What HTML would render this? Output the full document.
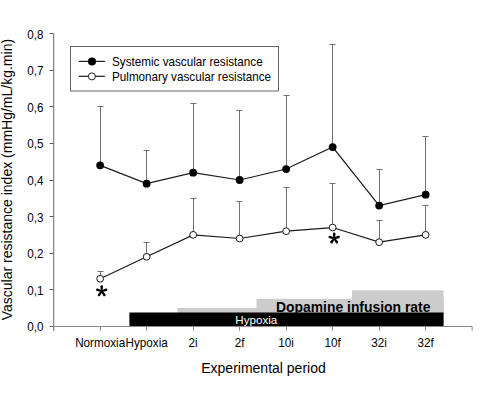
<!DOCTYPE html>
<html><head><meta charset="utf-8"><style>
html,body{margin:0;padding:0;background:#fff;}
body{width:500px;height:395px;overflow:hidden;}
svg{display:block;}
text{font-family:"Liberation Sans",sans-serif;fill:#000;}
.t{font-size:12.75px;}
.tt{font-size:14px;}
.b{font-size:13.9px;font-weight:bold;}
.ast{font-size:30.5px;font-weight:bold;}
</style></head><body>
<svg width="500" height="395" viewBox="0 0 500 395">
<rect width="500" height="395" fill="#fff"/>
<rect x="177.5" y="308" width="266.1" height="5" fill="#cccccc"/>
<rect x="256.5" y="298.8" width="187.1" height="14" fill="#cccccc"/>
<rect x="352" y="290.3" width="91.6" height="22.5" fill="#cccccc"/>
<rect x="129.4" y="312.5" width="314.2" height="14" fill="#000"/>
<text x="256.3" y="323.6" text-anchor="middle" style="font-size:11.6px;fill:#fff">Hypoxia</text>
<text x="353.2" y="311.7" text-anchor="middle" class="b">Dopamine infusion rate</text>
<line x1="53.65" y1="33.20" x2="53.65" y2="330.8" stroke="#8a8a8a" stroke-width="1.3"/>
<line x1="49.6" y1="326.50" x2="53.6" y2="326.50" stroke="#606060" stroke-width="1"/>
<text transform="translate(43.60,331.30) scale(0.918,1)" text-anchor="end" class="t">0,0</text>
<line x1="49.6" y1="289.50" x2="53.6" y2="289.50" stroke="#606060" stroke-width="1"/>
<text transform="translate(43.60,294.73) scale(0.918,1)" text-anchor="end" class="t">0,1</text>
<line x1="49.6" y1="253.50" x2="53.6" y2="253.50" stroke="#606060" stroke-width="1"/>
<text transform="translate(43.60,258.15) scale(0.918,1)" text-anchor="end" class="t">0,2</text>
<line x1="49.6" y1="216.50" x2="53.6" y2="216.50" stroke="#606060" stroke-width="1"/>
<text transform="translate(43.60,221.58) scale(0.918,1)" text-anchor="end" class="t">0,3</text>
<line x1="49.6" y1="180.50" x2="53.6" y2="180.50" stroke="#606060" stroke-width="1"/>
<text transform="translate(43.60,185.00) scale(0.918,1)" text-anchor="end" class="t">0,4</text>
<line x1="49.6" y1="143.50" x2="53.6" y2="143.50" stroke="#606060" stroke-width="1"/>
<text transform="translate(43.60,148.43) scale(0.918,1)" text-anchor="end" class="t">0,5</text>
<line x1="49.6" y1="106.50" x2="53.6" y2="106.50" stroke="#606060" stroke-width="1"/>
<text transform="translate(43.60,111.85) scale(0.918,1)" text-anchor="end" class="t">0,6</text>
<line x1="49.6" y1="70.50" x2="53.6" y2="70.50" stroke="#606060" stroke-width="1"/>
<text transform="translate(43.60,75.28) scale(0.918,1)" text-anchor="end" class="t">0,7</text>
<line x1="49.6" y1="33.50" x2="53.6" y2="33.50" stroke="#606060" stroke-width="1"/>
<text transform="translate(43.60,38.70) scale(0.918,1)" text-anchor="end" class="t">0,8</text>
<line x1="53" y1="326.5" x2="472.15" y2="326.5" stroke="#8a8a8a" stroke-width="1"/>
<line x1="53.65" y1="326.5" x2="53.65" y2="330.8" stroke="#8a8a8a" stroke-width="1"/>
<line x1="100.50" y1="326.5" x2="100.50" y2="330.8" stroke="#8a8a8a" stroke-width="1"/>
<line x1="146.50" y1="326.5" x2="146.50" y2="330.8" stroke="#8a8a8a" stroke-width="1"/>
<line x1="193.50" y1="326.5" x2="193.50" y2="330.8" stroke="#8a8a8a" stroke-width="1"/>
<line x1="239.50" y1="326.5" x2="239.50" y2="330.8" stroke="#8a8a8a" stroke-width="1"/>
<line x1="286.50" y1="326.5" x2="286.50" y2="330.8" stroke="#8a8a8a" stroke-width="1"/>
<line x1="332.50" y1="326.5" x2="332.50" y2="330.8" stroke="#8a8a8a" stroke-width="1"/>
<line x1="379.50" y1="326.5" x2="379.50" y2="330.8" stroke="#8a8a8a" stroke-width="1"/>
<line x1="425.50" y1="326.5" x2="425.50" y2="330.8" stroke="#8a8a8a" stroke-width="1"/>
<line x1="472.15" y1="326.5" x2="472.15" y2="330.8" stroke="#8a8a8a" stroke-width="1"/>
<text transform="translate(100.15,347.40) scale(0.918,1)" text-anchor="middle" class="t">Normoxia</text>
<text transform="translate(146.65,347.40) scale(0.918,1)" text-anchor="middle" class="t">Hypoxia</text>
<text transform="translate(193.15,347.40) scale(0.918,1)" text-anchor="middle" class="t">2i</text>
<text transform="translate(239.65,347.40) scale(0.918,1)" text-anchor="middle" class="t">2f</text>
<text transform="translate(286.15,347.40) scale(0.918,1)" text-anchor="middle" class="t">10i</text>
<text transform="translate(332.65,347.40) scale(0.918,1)" text-anchor="middle" class="t">10f</text>
<text transform="translate(379.15,347.40) scale(0.918,1)" text-anchor="middle" class="t">32i</text>
<text transform="translate(425.65,347.40) scale(0.918,1)" text-anchor="middle" class="t">32f</text>
<line x1="100.50" y1="165.37" x2="100.50" y2="106.50" stroke="#707070" stroke-width="1"/>
<line x1="97.50" y1="106.50" x2="103.50" y2="106.50" stroke="#707070" stroke-width="1"/>
<line x1="146.50" y1="183.66" x2="146.50" y2="150.50" stroke="#707070" stroke-width="1"/>
<line x1="143.50" y1="150.50" x2="149.50" y2="150.50" stroke="#707070" stroke-width="1"/>
<line x1="193.50" y1="172.69" x2="193.50" y2="103.50" stroke="#707070" stroke-width="1"/>
<line x1="190.50" y1="103.50" x2="196.50" y2="103.50" stroke="#707070" stroke-width="1"/>
<line x1="239.50" y1="180.00" x2="239.50" y2="110.50" stroke="#707070" stroke-width="1"/>
<line x1="236.50" y1="110.50" x2="242.50" y2="110.50" stroke="#707070" stroke-width="1"/>
<line x1="286.50" y1="169.03" x2="286.50" y2="95.50" stroke="#707070" stroke-width="1"/>
<line x1="283.50" y1="95.50" x2="289.50" y2="95.50" stroke="#707070" stroke-width="1"/>
<line x1="332.50" y1="147.08" x2="332.50" y2="44.50" stroke="#707070" stroke-width="1"/>
<line x1="329.50" y1="44.50" x2="335.50" y2="44.50" stroke="#707070" stroke-width="1"/>
<line x1="379.50" y1="205.60" x2="379.50" y2="169.50" stroke="#707070" stroke-width="1"/>
<line x1="376.50" y1="169.50" x2="382.50" y2="169.50" stroke="#707070" stroke-width="1"/>
<line x1="425.50" y1="194.63" x2="425.50" y2="136.50" stroke="#707070" stroke-width="1"/>
<line x1="422.50" y1="136.50" x2="428.50" y2="136.50" stroke="#707070" stroke-width="1"/>
<line x1="100.50" y1="278.75" x2="100.50" y2="271.50" stroke="#707070" stroke-width="1"/>
<line x1="97.50" y1="271.50" x2="103.50" y2="271.50" stroke="#707070" stroke-width="1"/>
<line x1="146.50" y1="256.81" x2="146.50" y2="242.50" stroke="#707070" stroke-width="1"/>
<line x1="143.50" y1="242.50" x2="149.50" y2="242.50" stroke="#707070" stroke-width="1"/>
<line x1="193.50" y1="234.86" x2="193.50" y2="198.50" stroke="#707070" stroke-width="1"/>
<line x1="190.50" y1="198.50" x2="196.50" y2="198.50" stroke="#707070" stroke-width="1"/>
<line x1="239.50" y1="238.52" x2="239.50" y2="201.50" stroke="#707070" stroke-width="1"/>
<line x1="236.50" y1="201.50" x2="242.50" y2="201.50" stroke="#707070" stroke-width="1"/>
<line x1="286.50" y1="231.21" x2="286.50" y2="187.50" stroke="#707070" stroke-width="1"/>
<line x1="283.50" y1="187.50" x2="289.50" y2="187.50" stroke="#707070" stroke-width="1"/>
<line x1="332.50" y1="227.55" x2="332.50" y2="183.50" stroke="#707070" stroke-width="1"/>
<line x1="329.50" y1="183.50" x2="335.50" y2="183.50" stroke="#707070" stroke-width="1"/>
<line x1="379.50" y1="242.18" x2="379.50" y2="220.50" stroke="#707070" stroke-width="1"/>
<line x1="376.50" y1="220.50" x2="382.50" y2="220.50" stroke="#707070" stroke-width="1"/>
<line x1="425.50" y1="234.86" x2="425.50" y2="205.50" stroke="#707070" stroke-width="1"/>
<line x1="422.50" y1="205.50" x2="428.50" y2="205.50" stroke="#707070" stroke-width="1"/>
<polyline fill="none" stroke="#1a1a1a" stroke-width="1.2" points="100.15,165.37 146.65,183.66 193.15,172.69 239.65,180.00 286.15,169.03 332.65,147.08 379.15,205.60 425.65,194.63"/>
<polyline fill="none" stroke="#1a1a1a" stroke-width="1.2" points="100.15,278.75 146.65,256.81 193.15,234.86 239.65,238.52 286.15,231.21 332.65,227.55 379.15,242.18 425.65,234.86"/>
<circle cx="100.15" cy="165.37" r="3.9" fill="#000"/>
<circle cx="146.65" cy="183.66" r="3.9" fill="#000"/>
<circle cx="193.15" cy="172.69" r="3.9" fill="#000"/>
<circle cx="239.65" cy="180.00" r="3.9" fill="#000"/>
<circle cx="286.15" cy="169.03" r="3.9" fill="#000"/>
<circle cx="332.65" cy="147.08" r="3.9" fill="#000"/>
<circle cx="379.15" cy="205.60" r="3.9" fill="#000"/>
<circle cx="425.65" cy="194.63" r="3.9" fill="#000"/>
<circle cx="100.15" cy="278.75" r="3.4" fill="#fff" stroke="#000" stroke-width="0.9"/>
<circle cx="146.65" cy="256.81" r="3.4" fill="#fff" stroke="#000" stroke-width="0.9"/>
<circle cx="193.15" cy="234.86" r="3.4" fill="#fff" stroke="#000" stroke-width="0.9"/>
<circle cx="239.65" cy="238.52" r="3.4" fill="#fff" stroke="#000" stroke-width="0.9"/>
<circle cx="286.15" cy="231.21" r="3.4" fill="#fff" stroke="#000" stroke-width="0.9"/>
<circle cx="332.65" cy="227.55" r="3.4" fill="#fff" stroke="#000" stroke-width="0.9"/>
<circle cx="379.15" cy="242.18" r="3.4" fill="#fff" stroke="#000" stroke-width="0.9"/>
<circle cx="425.65" cy="234.86" r="3.4" fill="#fff" stroke="#000" stroke-width="0.9"/>
<g transform="translate(101.7,291.2)"><path d="M-0.85,0 L-1.3,-4.6 A1.3,1.3 0 0 1 1.3,-4.6 L0.85,0 Z" transform="rotate(0)" fill="#000"/><path d="M-0.85,0 L-1.3,-4.6 A1.3,1.3 0 0 1 1.3,-4.6 L0.85,0 Z" transform="rotate(72)" fill="#000"/><path d="M-0.85,0 L-1.3,-4.6 A1.3,1.3 0 0 1 1.3,-4.6 L0.85,0 Z" transform="rotate(144)" fill="#000"/><path d="M-0.85,0 L-1.3,-4.6 A1.3,1.3 0 0 1 1.3,-4.6 L0.85,0 Z" transform="rotate(216)" fill="#000"/><path d="M-0.85,0 L-1.3,-4.6 A1.3,1.3 0 0 1 1.3,-4.6 L0.85,0 Z" transform="rotate(288)" fill="#000"/><circle r="1.05" fill="#000"/></g>
<g transform="translate(334.2,238.4)"><path d="M-0.85,0 L-1.3,-4.6 A1.3,1.3 0 0 1 1.3,-4.6 L0.85,0 Z" transform="rotate(0)" fill="#000"/><path d="M-0.85,0 L-1.3,-4.6 A1.3,1.3 0 0 1 1.3,-4.6 L0.85,0 Z" transform="rotate(72)" fill="#000"/><path d="M-0.85,0 L-1.3,-4.6 A1.3,1.3 0 0 1 1.3,-4.6 L0.85,0 Z" transform="rotate(144)" fill="#000"/><path d="M-0.85,0 L-1.3,-4.6 A1.3,1.3 0 0 1 1.3,-4.6 L0.85,0 Z" transform="rotate(216)" fill="#000"/><path d="M-0.85,0 L-1.3,-4.6 A1.3,1.3 0 0 1 1.3,-4.6 L0.85,0 Z" transform="rotate(288)" fill="#000"/><circle r="1.05" fill="#000"/></g>
<rect x="70.5" y="46.5" width="208" height="44.5" fill="#fff" stroke="#666" stroke-width="1"/>
<line x1="78.7" y1="61.4" x2="104.9" y2="61.4" stroke="#1a1a1a" stroke-width="1.2"/>
<circle cx="92" cy="61.4" r="4" fill="#000"/>
<line x1="78.7" y1="76.3" x2="104.9" y2="76.3" stroke="#1a1a1a" stroke-width="1.2"/>
<circle cx="91.9" cy="76.4" r="3.5" fill="#fff" stroke="#000" stroke-width="0.9"/>
<text transform="translate(112.00,66.00) scale(0.918,1)" text-anchor="start" class="t">Systemic vascular resistance</text>
<text transform="translate(112.00,80.80) scale(0.918,1)" text-anchor="start" class="t">Pulmonary vascular resistance</text>
<text x="263.5" y="372.8" text-anchor="middle" class="tt">Experimental period</text>
<text transform="translate(11.6,179.6) rotate(-90)" x="0" y="0" text-anchor="middle" class="tt">Vascular resistance index (mmHg/mL/kg.min)</text>
</svg>
</body></html>
